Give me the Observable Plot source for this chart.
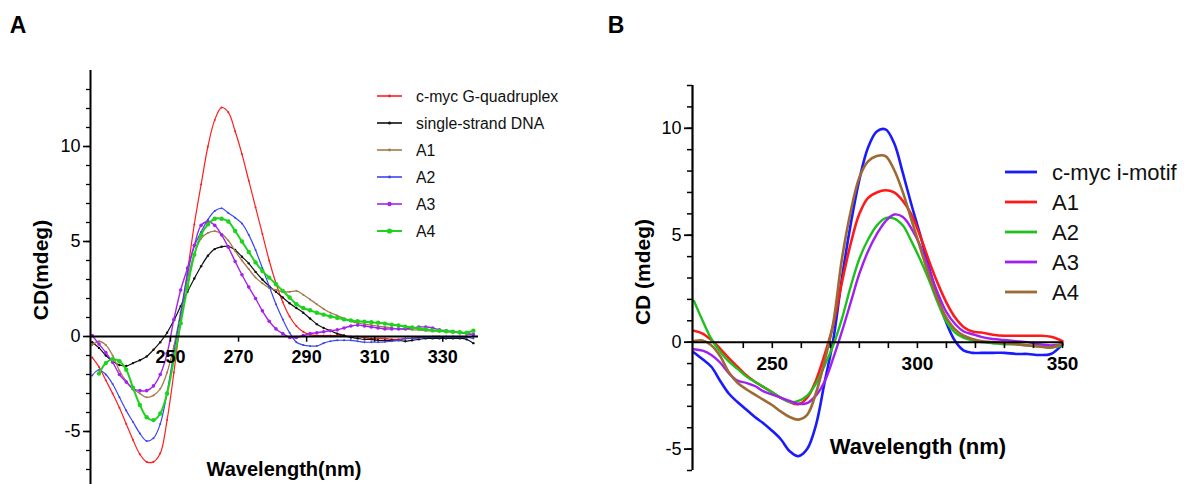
<!DOCTYPE html>
<html><head><meta charset="utf-8">
<script src="https://cdn.jsdelivr.net/npm/d3@7"></script>
<script src="https://cdn.jsdelivr.net/npm/@observablehq/plot@0.6"></script>
<style>
html,body{margin:0;padding:0;background:#fff;width:1184px;height:484px;overflow:hidden;font-family:"Liberation Sans",Arial,sans-serif;}
#wrap{position:relative;width:1184px;height:484px;overflow:hidden;}
.abs{position:absolute;white-space:nowrap;color:#000;}
.c{transform:translate(-50%,-50%);}
.r{transform:translate(-50%,-50%) rotate(-90deg);}
</style></head><body><div id="wrap"></div>
<script>
// ---------- Panel A data ----------
const wlA = [227,229,231,233,235,237,239,241,243,245,247,249,251,253,255,257,259,261,263,265,267,269,271,273,275,277,279,281,283,285,287,289,291,293,295,297,299,301,303,305,307,309,311,313,315,317,319,321,323,325,327,329,331,333,335,337,339];
const gqA = [-1.1,-1.6,-2.3,-3.0,-3.75,-4.6,-5.45,-6.2,-6.6,-6.6,-6.15,-4.4,-1.9,0.9,3.4,5.9,8.0,10.0,11.4,12.05,11.8,10.8,9.6,8.2,6.8,5.4,4.0,2.8,1.8,1.05,0.55,0.25,0.1,0.05,0.05,0.05,0.05,0.05,0.0,0.0,-0.05,-0.1,-0.1,-0.1,-0.15,-0.15,-0.1,-0.1,-0.05,-0.05,0,0,0,0,0,0,0];
const ssA = [-0.3,-0.6,-1.0,-1.3,-1.5,-1.55,-1.4,-1.25,-1.05,-0.7,-0.3,0.2,0.85,1.6,2.35,3.05,3.7,4.25,4.6,4.72,4.75,4.55,4.2,3.85,3.4,3.0,2.65,2.35,2.05,1.75,1.5,1.25,0.95,0.65,0.45,0.3,0.15,0.05,-0.05,-0.1,-0.15,-0.15,-0.2,-0.2,-0.2,-0.2,-0.25,-0.2,-0.15,-0.1,-0.1,-0.1,-0.1,-0.1,-0.1,-0.15,-0.35];
const a1A = [-0.45,-0.25,-0.45,-1.0,-1.8,-2.35,-2.75,-3.0,-3.2,-3.1,-2.75,-1.9,-0.5,1.25,3.0,4.35,5.15,5.45,5.55,5.4,5.05,4.5,4.0,3.55,3.1,2.8,2.55,2.45,2.35,2.35,2.4,2.2,1.95,1.7,1.45,1.25,1.1,0.95,0.8,0.7,0.65,0.6,0.55,0.5,0.45,0.4,0.4,0.35,0.35,0.3,0.3,0.3,0.25,0.25,0.2,0.15,0.1];
const a2A = [-2.05,-1.75,-2.0,-2.5,-3.2,-3.9,-4.5,-5.1,-5.5,-5.35,-4.6,-2.95,-0.85,1.25,3.3,4.75,5.5,6.15,6.6,6.75,6.5,6.25,5.95,5.35,4.55,3.6,2.65,1.7,0.9,0.2,-0.3,-0.45,-0.5,-0.5,-0.35,-0.25,-0.2,-0.2,-0.2,-0.25,-0.3,-0.3,-0.3,-0.28,-0.25,-0.2,-0.12,-0.1,-0.08,-0.05,-0.05,-0.05,-0.05,-0.05,-0.05,-0.05,-0.1];
const a3A = [0.05,-0.4,-0.85,-1.35,-2.0,-2.4,-2.75,-2.85,-2.85,-2.6,-2.0,-0.9,0.9,2.45,3.6,4.8,5.85,6.05,5.85,5.35,4.7,3.95,3.25,2.6,2.0,1.35,0.8,0.4,0.15,-0.05,-0.05,0.05,0.15,0.2,0.25,0.3,0.35,0.45,0.55,0.6,0.55,0.5,0.45,0.4,0.4,0.4,0.4,0.45,0.5,0.5,0.45,0.35,0.3,0.25,0.2,0.15,0.1];
const a4A = [null,-1.95,-1.4,-1.2,-1.3,-1.75,-2.7,-3.6,-4.25,-4.4,-4.05,-3.0,-1.2,0.7,2.6,4.3,5.35,5.9,6.2,6.2,6.05,5.55,5.0,4.45,3.9,3.45,3.1,2.75,2.4,2.05,1.7,1.5,1.38,1.25,1.15,1.05,0.98,0.9,0.85,0.8,0.78,0.75,0.72,0.68,0.62,0.58,0.52,0.48,0.42,0.38,0.32,0.3,0.28,0.25,0.22,0.2,0.3];
const namesA = ["c-myc G-quadruplex","single-strand DNA","A1","A2","A3","A4"];
const xDomainA = [226.5, 340.5], yDomainA = [-8, 14];
const xTicksA = [250,270,290,310,330];
const yTicksA = [-5,0,5,10];
const yMinorA = d3.range(-8, 14);

// ---------- Panel B data ----------
const wlB = [223,226,229,232,235,238,241,244,247,250,253,256,259,262,265,268,271,274,277,280,283,286,289,292,295,298,301,304,307,310,313,316,319,322,326,330,334,338,342,346,350];
const imB = [-0.48,-0.8,-1.15,-1.8,-2.4,-2.8,-3.15,-3.5,-3.8,-4.15,-4.55,-5.1,-5.33,-5.0,-3.9,-1.9,0.1,3.0,5.5,7.6,9.1,9.85,9.95,9.3,7.9,6.4,5.0,3.5,2.1,0.9,0.05,-0.4,-0.5,-0.5,-0.5,-0.5,-0.55,-0.55,-0.6,-0.55,-0.1];
const a1B = [0.53,0.4,0.1,-0.3,-0.75,-1.15,-1.55,-1.85,-2.1,-2.35,-2.6,-2.8,-2.9,-2.6,-1.8,-0.6,0.8,2.8,4.6,6.0,6.75,7.0,7.1,7.0,6.6,5.95,4.95,3.8,2.75,1.85,1.15,0.7,0.5,0.45,0.35,0.3,0.3,0.3,0.3,0.25,0.05];
const a2B = [1.93,1.0,0.15,-0.45,-0.9,-1.25,-1.6,-1.85,-2.1,-2.35,-2.6,-2.8,-2.75,-2.5,-1.95,-1.1,-0.15,1.1,2.6,3.9,4.8,5.45,5.8,5.78,5.45,4.7,3.85,2.9,1.85,0.95,0.45,0.2,0.08,0.0,-0.05,-0.1,-0.1,-0.15,-0.2,-0.25,-0.15];
const a3B = [-0.33,-0.4,-0.6,-0.95,-1.45,-1.8,-1.9,-2.05,-2.3,-2.45,-2.6,-2.75,-2.88,-2.85,-2.5,-1.85,-0.75,0.5,1.85,3.2,4.25,5.05,5.65,5.97,5.85,5.3,4.5,3.4,2.3,1.4,0.85,0.5,0.37,0.25,0.15,0.1,0.05,0.0,-0.1,-0.15,-0.1];
const a4B = [0.05,0.08,-0.15,-0.65,-1.4,-1.9,-2.2,-2.45,-2.7,-2.95,-3.25,-3.5,-3.62,-3.4,-2.4,-0.9,0.9,3.9,6.1,7.7,8.45,8.7,8.7,8.05,7.0,5.7,4.4,3.1,2.0,1.15,0.6,0.3,0.15,0.05,0.0,-0.05,-0.1,-0.15,-0.2,-0.25,-0.05];
const namesB = ["c-myc i-motif","A1","A2","A3","A4"];
const xDomainB = [222.5, 350], yDomainB = [-6, 12];
const xTicksB = [250,300,350];
const xMinorB = d3.range(240, 351, 10);
const yTicksB = [-5,0,5,10];
const yMinorB = d3.range(-6, 13);

// ---------- styles ----------
const styleA = [
  {color:"#ff1e1e", w:1.2, r:1.0},
  {color:"#111111", w:1.2, r:1.2},
  {color:"#a47a4c", w:1.3, r:1.0},
  {color:"#3a46f0", w:1.2, r:1.0},
  {color:"#a422ee", w:1.4, r:1.8},
  {color:"#1ed21e", w:2.0, r:2.2}
];
const styleB = [
  {color:"#1a1aff", w:2.6},
  {color:"#ff1a1a", w:2.6},
  {color:"#1ec01e", w:2.4},
  {color:"#a020f0", w:2.4},
  {color:"#9c6a32", w:2.6}
];

const seriesA = [gqA, ssA, a1A, a2A, a3A, a4A].map((vals, i) => ({
  name: namesA[i], ...styleA[i],
  data: wlA.map((wl, j) => ({wl, v: vals[j]})).filter(d => d.v !== null)
}));
const seriesB = [imB, a1B, a2B, a3B, a4B].map((vals, i) => ({
  name: namesB[i], ...styleB[i],
  data: wlB.map((wl, j) => ({wl, v: vals[j]}))
}));

const font = "Liberation Sans, Arial, sans-serif";
const wrap = document.getElementById("wrap");
const fmt = d => String(d);

// ---------- Plot A ----------
const plotA = Plot.plot({
  width: 600, height: 490,
  marginLeft: 90, marginRight: 122, marginTop: 70, marginBottom: 2,
  x: {domain: xDomainA, label: null, axis: null},
  y: {domain: yDomainA, label: null},
  style: {fontFamily: font, background: "transparent", overflow: "visible", color: "#000"},
  marks: [
    ...seriesA.flatMap(s => [
      Plot.line(s.data, {x: "wl", y: "v", stroke: s.color, strokeWidth: s.w, curve: "catmull-rom"}),
      Plot.dot(s.data, {x: "wl", y: "v", r: s.r, fill: s.color, stroke: "none"})
    ]),
    Plot.ruleY([0], {stroke: "#000", strokeWidth: 2}),
    Plot.ruleX([xDomainA[0]], {stroke: "#000", strokeWidth: 2}),
    Plot.ruleX(xTicksA, {x: d => d, y1: 0, y2: -0.3, stroke: "#000", strokeWidth: 1.5}),
    Plot.text(xTicksA, {x: d => d, y: 0, dy: 21, text: fmt, fontSize: 18, fontWeight: "bold", fill: "#000"}),
    Plot.axisY(yMinorA, {tickSize: 4, text: null, strokeWidth: 1.3}),
    Plot.axisY(yTicksA, {tickSize: 7, tickPadding: 3, fontSize: 18, strokeWidth: 1.6, tickFormat: fmt, label: null})
  ]
});
plotA.style.position = "absolute"; plotA.style.left = "0px"; plotA.style.top = "0px";
wrap.appendChild(plotA);

// ---------- Plot B ----------
const plotB = Plot.plot({
  width: 584, height: 484,
  marginLeft: 92, marginRight: 122, marginTop: 85, marginBottom: 14,
  x: {domain: xDomainB, label: null, axis: null},
  y: {domain: yDomainB, label: null},
  style: {fontFamily: font, background: "transparent", overflow: "visible", color: "#000"},
  marks: [
    ...seriesB.map(s =>
      Plot.line(s.data, {x: "wl", y: "v", stroke: s.color, strokeWidth: s.w, curve: "catmull-rom"})
    ),
    Plot.ruleY([0], {stroke: "#000", strokeWidth: 2}),
    Plot.ruleX([xDomainB[0]], {stroke: "#000", strokeWidth: 2.2}),
    Plot.ruleX(xMinorB, {x: d => d, y1: 0, y2: -0.3, stroke: "#000", strokeWidth: 1.6}),
    Plot.text(xTicksB, {x: d => d, y: 0, dy: 22, text: fmt, fontSize: 19, fontWeight: "bold", fill: "#000"}),
    Plot.axisY(yMinorB, {tickSize: 5, text: null, strokeWidth: 1.5}),
    Plot.axisY(yTicksB, {tickSize: 8, tickPadding: 3, fontSize: 18, strokeWidth: 1.8, tickFormat: fmt, label: null})
  ]
});
plotB.style.position = "absolute"; plotB.style.left = "600px"; plotB.style.top = "0px";
wrap.appendChild(plotB);

// ---------- text labels ----------
function label(txt, x, y, cls, css) {
  const d = document.createElement("div");
  d.className = "abs " + cls; d.textContent = txt;
  d.style.left = x + "px"; d.style.top = y + "px";
  Object.assign(d.style, css);
  wrap.appendChild(d);
}
label("A", 18, 25, "c", {fontSize: "23px", fontWeight: "bold"});
label("B", 616, 25, "c", {fontSize: "23px", fontWeight: "bold"});
label("CD(mdeg)", 41, 270, "r", {fontSize: "21px", fontWeight: "bold"});
label("Wavelength(nm)", 284, 469, "c", {fontSize: "20px", fontWeight: "bold"});
label("CD (mdeg)", 643, 272, "r", {fontSize: "21px", fontWeight: "bold"});
label("Wavelength (nm)", 918, 447, "c", {fontSize: "22px", fontWeight: "bold"});

// ---------- legends ----------
const leg = d3.select(wrap).append("svg")
  .attr("width", 1184).attr("height", 484)
  .style("position", "absolute").style("left", 0).style("top", 0)
  .style("font-family", font);
seriesA.forEach((s, i) => {
  const y = 96 + i * 27;
  leg.append("line").attr("x1", 377).attr("x2", 402).attr("y1", y).attr("y2", y)
    .attr("stroke", s.color).attr("stroke-width", Math.max(s.w, 1.6));
  leg.append("circle").attr("cx", 389.5).attr("cy", y).attr("r", s.r + 0.4).attr("fill", s.color);
  leg.append("text").attr("x", 416).attr("y", y).attr("dy", "0.36em")
    .attr("font-size", 15.8).attr("fill", "#111").text(s.name);
});
seriesB.forEach((s, i) => {
  const y = 172 + i * 30;
  leg.append("line").attr("x1", 1005).attr("x2", 1037).attr("y1", y).attr("y2", y)
    .attr("stroke", s.color).attr("stroke-width", 2.8);
  leg.append("text").attr("x", 1052).attr("y", y).attr("dy", "0.36em")
    .attr("font-size", 22).attr("fill", "#111").text(s.name);
});
</script>
</body></html>
